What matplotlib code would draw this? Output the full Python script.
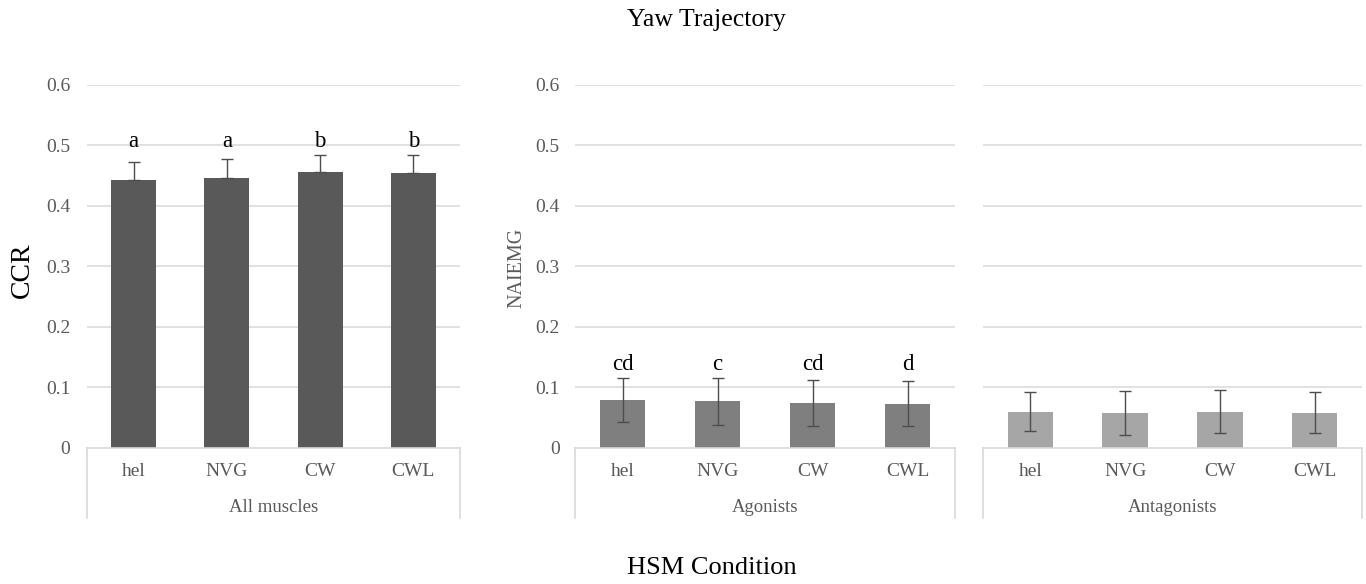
import matplotlib.pyplot as plt
import numpy as np

plt.rcParams['font.family'] = ['Liberation Serif', 'DejaVu Serif']

# данные
conditions = ['hel', 'NVG', 'CW', 'CWL']
groups = ['All muscles', 'Agonists', 'Antagonists']

ccr_mean = [0.442, 0.446, 0.456, 0.454]
ccr_err = [0.030, 0.031, 0.027, 0.030]
ccr_letters = ['a', 'a', 'b', 'b']

agon_mean = [0.079, 0.077, 0.075, 0.073]
agon_err = [0.036, 0.039, 0.038, 0.037]
agon_letters = ['cd', 'c', 'cd', 'd']

antag_mean = [0.060, 0.058, 0.060, 0.058]
antag_err = [0.032, 0.036, 0.035, 0.034]

yticks = [0, 0.1, 0.2, 0.3, 0.4, 0.5, 0.6]
ytick_labels = ['0', '0.1', '0.2', '0.3', '0.4', '0.5', '0.6']

W, H = 1366, 584
fig = plt.figure(figsize=(W / 100, H / 100), dpi=100)

grid_c = '#d9d9d9'
text_c = '#595959'

# положение панелей в пикселях: (левый край, правый край)
panels = [(87, 460), (575, 955), (983, 1362)]
y_top, y_zero = 84.5, 448
box_bottom = (y_zero - 518) / (y_zero - y_top)
lbl_y = (y_zero - 472) / (y_zero - y_top)
grp_y = (y_zero - 507) / (y_zero - y_top)

series = [
    (ccr_mean, ccr_err, ccr_letters, '#595959', True),
    (agon_mean, agon_err, agon_letters, '#7f7f7f', False),
    (antag_mean, antag_err, None, '#a6a6a6', False),
]

x = np.arange(len(conditions))
axes = []
for i, ((x0, x1), (mean, err, letters, color, upper_only)) in enumerate(zip(panels, series)):
    ax = fig.add_axes([x0 / W, (H - y_zero) / H, (x1 - x0) / W, (y_zero - y_top) / H])
    axes.append(ax)
    ax.set_xlim(-0.5, len(conditions) - 0.5)
    ax.set_ylim(0, 0.6)
    for v in yticks[1:]:
        ax.axhline(v, color=grid_c, lw=1.1, zorder=0)
    ax.bar(x, mean, width=0.48, color=color, zorder=2)
    if upper_only:
        yerr = [np.zeros(len(err)), err]
    else:
        yerr = err
    ax.errorbar(x, mean, yerr=yerr, fmt='none', ecolor='#4d4d4d',
                elinewidth=1, capsize=4, capthick=1, zorder=3)
    if letters:
        top = max(m + e for m, e in zip(mean, err))
        for xi, lt in zip(x, letters):
            ax.text(xi, top + 0.013, lt, ha='center', va='baseline',
                    fontsize=16.5, color='black')

    for s in ax.spines.values():
        s.set_visible(False)
    ax.set_xticks([])
    if i < 2:
        ax.set_yticks(yticks)
        ax.set_yticklabels(ytick_labels)
        ax.tick_params(axis='y', length=0, pad=12 if i == 0 else 11,
                       labelsize=14, labelcolor=text_c)
    else:
        ax.set_yticks([])

    # подписи категорий и рамка многоуровневой оси
    tr = ax.get_xaxis_transform()
    for xi, c in zip(x, conditions):
        ax.text(xi, lbl_y, c, ha='center', va='center', fontsize=14,
                color=text_c, transform=tr)
    ax.text(1.5, grp_y, groups[i], ha='center', va='center', fontsize=13.5,
            color=text_c, transform=tr)
    ax.plot([-0.5, 3.5], [0, 0], color=grid_c, lw=1.2, transform=tr, clip_on=False)
    ax.plot([-0.5, -0.5], [0, box_bottom], color=grid_c, lw=1.2, transform=tr, clip_on=False)
    ax.plot([3.5, 3.5], [0, box_bottom], color=grid_c, lw=1.2, transform=tr, clip_on=False)

fig.text(22 / W, 1 - 270 / H, 'CCR', rotation=90, ha='center', va='center',
         fontsize=20, color='black')
fig.text(517 / W, 1 - 268 / H, 'NAIEMG', rotation=90, ha='center', va='center',
         fontsize=14.5, color=text_c)
fig.text(706 / W, 1 - 20 / H, 'Yaw Trajectory', ha='center', va='center',
         fontsize=18.5, color='black')
fig.text(712 / W, 1 - 568 / H, 'HSM Condition', ha='center', va='center',
         fontsize=19, color='black')

fig.savefig('out.png', dpi=100)
